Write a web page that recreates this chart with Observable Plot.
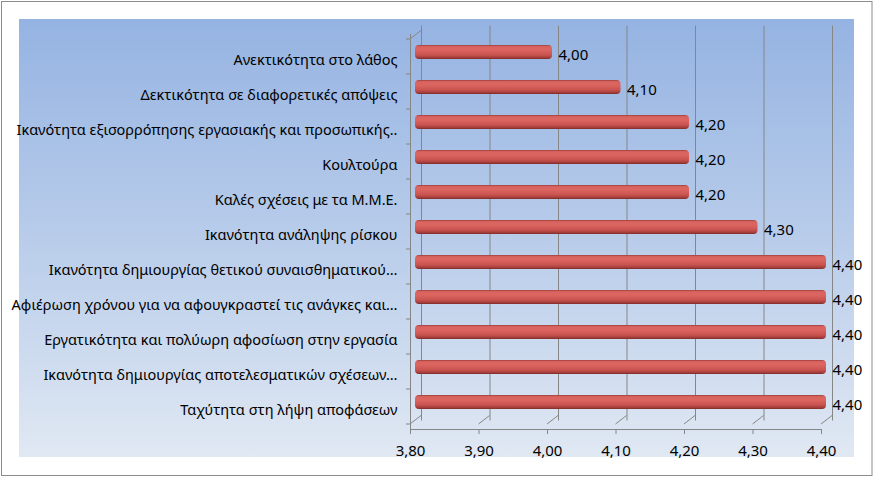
<!DOCTYPE html>
<html><head><meta charset="utf-8">
<script src="https://cdn.jsdelivr.net/npm/d3@7"></script>
<script src="https://cdn.jsdelivr.net/npm/@observablehq/plot@0.6"></script>
<style>body{margin:0;background:#fff}</style>
</head><body><div id="chart"></div>
<script>
const categories = [
  "Ανεκτικότητα στο λάθος",
  "Δεκτικότητα σε διαφορετικές απόψεις",
  "Ικανότητα εξισορρόπησης εργασιακής και προσωπικής..",
  "Κουλτούρα",
  "Καλές σχέσεις με τα Μ.Μ.Ε.",
  "Ικανότητα ανάληψης ρίσκου",
  "Ικανότητα δημιουργίας θετικού συναισθηματικού…",
  "Αφιέρωση χρόνου για να αφουγκραστεί τις ανάγκες και…",
  "Εργατικότητα και πολύωρη αφοσίωση στην εργασία",
  "Ικανότητα δημιουργίας αποτελεσματικών σχέσεων…",
  "Ταχύτητα στη λήψη αποφάσεων"
];
const values = [4.00, 4.10, 4.20, 4.20, 4.20, 4.30, 4.40, 4.40, 4.40, 4.40, 4.40];
const xTicks = [3.8, 3.9, 4.0, 4.1, 4.2, 4.3, 4.4];
const xMin = 3.8;

const data = categories.map((c, i) => ({cat: c, value: values[i]}));
const fmt = d => d.toFixed(2).replace(".", ",");
const FONT = "'Noto Sans', sans-serif";
const GRID = "#868686";

const plot = Plot.plot({
  width: 874, height: 478,
  marginLeft: 410, marginRight: 53, marginTop: 34, marginBottom: 49,
  style: {background: "transparent", fontFamily: FONT, color: "#000", overflow: "visible"},
  x: {domain: [3.8, 4.4], label: null},
  y: {domain: categories, padding: 0, label: null},
  marks: [
    Plot.ruleX(xTicks, {dx: 11, dy: -8.5, stroke: GRID, strokeWidth: 1}),
    Plot.frame({anchor: "left", stroke: GRID}),
    Plot.frame({anchor: "bottom", stroke: GRID}),
    Plot.barX(data, {x1: () => xMin, x2: "value", y: "cat", insetTop: 10.5, insetBottom: 10.5, dx: 5, dy: -4.5, fill: "url(#cyl)", rx: 4}),
    Plot.tickX(data, {x: "value", y: "cat", insetTop: 13, insetBottom: 13, dx: 6, dy: -4.5, stroke: "url(#cap)", strokeWidth: 5, strokeLinecap: "round"}),
    Plot.text(data, {x: "value", y: "cat", text: d => fmt(d.value), dx: 11, dy: -1.5, textAnchor: "start", fontSize: 15, fill: "#000"}),
    Plot.axisX(xTicks, {tickFormat: fmt, tickSize: 5, tickPadding: 11, fontSize: 15, stroke: GRID, fill: "#000", label: null}),
    Plot.axisY({tickSize: 0, tickPadding: 13, dy: 3, fontSize: 14.5, fill: "#000", label: null})
  ]
});

const svg = d3.select(plot);
const defs = svg.insert("defs", ":first-child");
const cyl = defs.append("linearGradient").attr("id", "cyl").attr("x1", 0).attr("y1", 0).attr("x2", 0).attr("y2", 1);
[["0%", "#9e3e3b"], ["12%", "#d9645f"], ["35%", "#dc6560"], ["70%", "#c9534f"], ["88%", "#a8403d"], ["100%", "#7c2b29"]]
  .forEach(([o, c]) => cyl.append("stop").attr("offset", o).attr("stop-color", c));
const cap = defs.append("linearGradient").attr("id", "cap").attr("x1", 0).attr("y1", 0).attr("x2", 1).attr("y2", 0);
[["0%", "#b84a46"], ["100%", "#8a302e"]].forEach(([o, c]) => cap.append("stop").attr("offset", o).attr("stop-color", c));
const bg = defs.append("linearGradient").attr("id", "bg").attr("x1", 0).attr("y1", 0).attr("x2", 0).attr("y2", 1);
[["0%", "#95b3e2"], ["55%", "#bccfeb"], ["100%", "#e0e8f3"]].forEach(([o, c]) => bg.append("stop").attr("offset", o).attr("stop-color", c));

// chart-area decoration (behind everything)
const deco = svg.insert("g", "defs + *");
deco.append("rect").attr("x", 1.5).attr("y", 1.5).attr("width", 870.5).attr("height", 474).attr("fill", "#fff").attr("stroke", "#8c8c8c");
deco.append("rect").attr("x", 19).attr("y", 19).attr("width", 835).attr("height", 438).attr("fill", "url(#bg)");

// 3D wall edges derived from the scales
const xs = plot.scale("x"), ys = plot.scale("y");
const x0 = xs.apply(xMin);
const yTop = ys.apply(categories[0]);
const yBot = ys.apply(categories[categories.length - 1]) + ys.bandwidth;
const lines = svg.append("g").attr("stroke", GRID).attr("fill", "none");
lines.append("line").attr("x1", x0).attr("y1", yTop).attr("x2", x0 + 11).attr("y2", yTop - 8.5);
xTicks.forEach(t => {
  const px = xs.apply(t);
  lines.append("line").attr("x1", px).attr("y1", yBot).attr("x2", px + 11).attr("y2", yBot - 8.5);
});
const bounds = categories.map(c => ys.apply(c)).concat([yBot]);
bounds.forEach(b => lines.append("line").attr("x1", x0 - 4).attr("x2", x0).attr("y1", b).attr("y2", b));

document.getElementById("chart").appendChild(plot);
</script>
</body></html>
